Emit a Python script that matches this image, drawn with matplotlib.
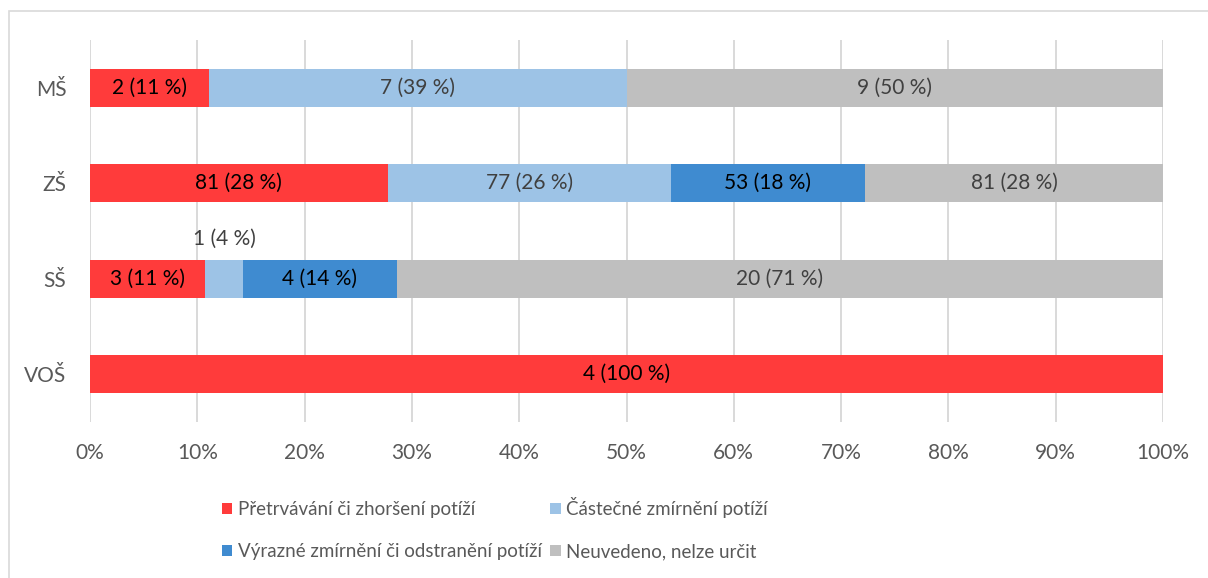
import matplotlib
matplotlib.use("Agg")
import matplotlib.pyplot as plt
import matplotlib.patches as mpatches
import numpy as np

categories = ["VOŠ", "SŠ", "ZŠ", "MŠ"]
series_names = [
    "Přetrvávání či zhoršení potíží",
    "Částečné zmírnění potíží",
    "Výrazné zmírnění či odstranění potíží",
    "Neuvedeno, nelze určit",
]
# counts per category (same order as categories)
persist = [4, 3, 81, 2]
partial = [0, 1, 77, 7]
strong = [0, 4, 53, 0]
unknown = [0, 20, 81, 9]
xticks = [0, 10, 20, 30, 40, 50, 60, 70, 80, 90, 100]

colors = ["#FF3B3B", "#9DC3E6", "#3F8BD0", "#BFBFBF"]
label_colors = ["black", "#404040", "black", "#404040"]

plt.rcParams["font.family"] = ["Lato", "DejaVu Sans"]

fig = plt.figure(figsize=(12.08, 5.78), dpi=100)
ax = fig.add_axes([90 / 1208, 1 - 422 / 578, 1073 / 1208, 382 / 578])

counts = np.array([persist, partial, strong, unknown], dtype=float)
totals = counts.sum(axis=0)
y = np.arange(len(categories))
left = np.zeros(len(categories))
for i, name in enumerate(series_names):
    pct = counts[i] / totals * 100
    bars = ax.barh(y, pct, left=left, height=0.4, color=colors[i], label=name)
    for j, (b, c, p) in enumerate(zip(bars, counts[i], pct)):
        if c == 0:
            continue
        txt = f"{int(c)} ({p:.0f} %)"
        cx = left[j] + p / 2
        if p < 6:
            # too thin: put label above the bar
            ax.text(cx, y[j] + 0.42, txt, ha="center", va="center",
                    fontsize=15, color="#404040")
        else:
            ax.text(cx, y[j], txt, ha="center", va="center",
                    fontsize=15, color=label_colors[i])
    left += pct

ax.set_xlim(0, 100)
ax.set_ylim(-0.5, 3.5)
ax.set_xticks(xticks)
ax.set_xticklabels([f"{t}%" for t in xticks])
ax.set_yticks(y)
ax.set_yticklabels(categories)
ax.tick_params(axis="both", length=0, labelsize=15, colors="#595959")
ax.tick_params(axis="x", pad=15)
ax.tick_params(axis="y", pad=17)
ax.grid(axis="x", color="#D9D9D9", lw=1.4)
ax.set_axisbelow(True)
for s in ax.spines.values():
    s.set_visible(False)

handles, labels = ax.get_legend_handles_labels()
order = [0, 2, 1, 3]
leg = fig.legend([handles[k] for k in order], [labels[k] for k in order],
                 ncol=2, frameon=False, fontsize=13.5,
                 loc="upper left", bbox_to_anchor=(222 / 1208, 1 - 497 / 578),
                 handlelength=0.55, handleheight=0.55, handletextpad=0.3,
                 columnspacing=0.45, labelspacing=1.35, borderpad=0, borderaxespad=0)
for t in leg.get_texts():
    t.set_color("#595959")

border = mpatches.Rectangle((9 / 1208, -0.1), 1.2, 1.1 - 11 / 578,
                            transform=fig.transFigure, fill=False,
                            edgecolor="#D9D9D9", lw=1.2)
fig.patches.append(border)

fig.savefig("out.png", dpi=100)
